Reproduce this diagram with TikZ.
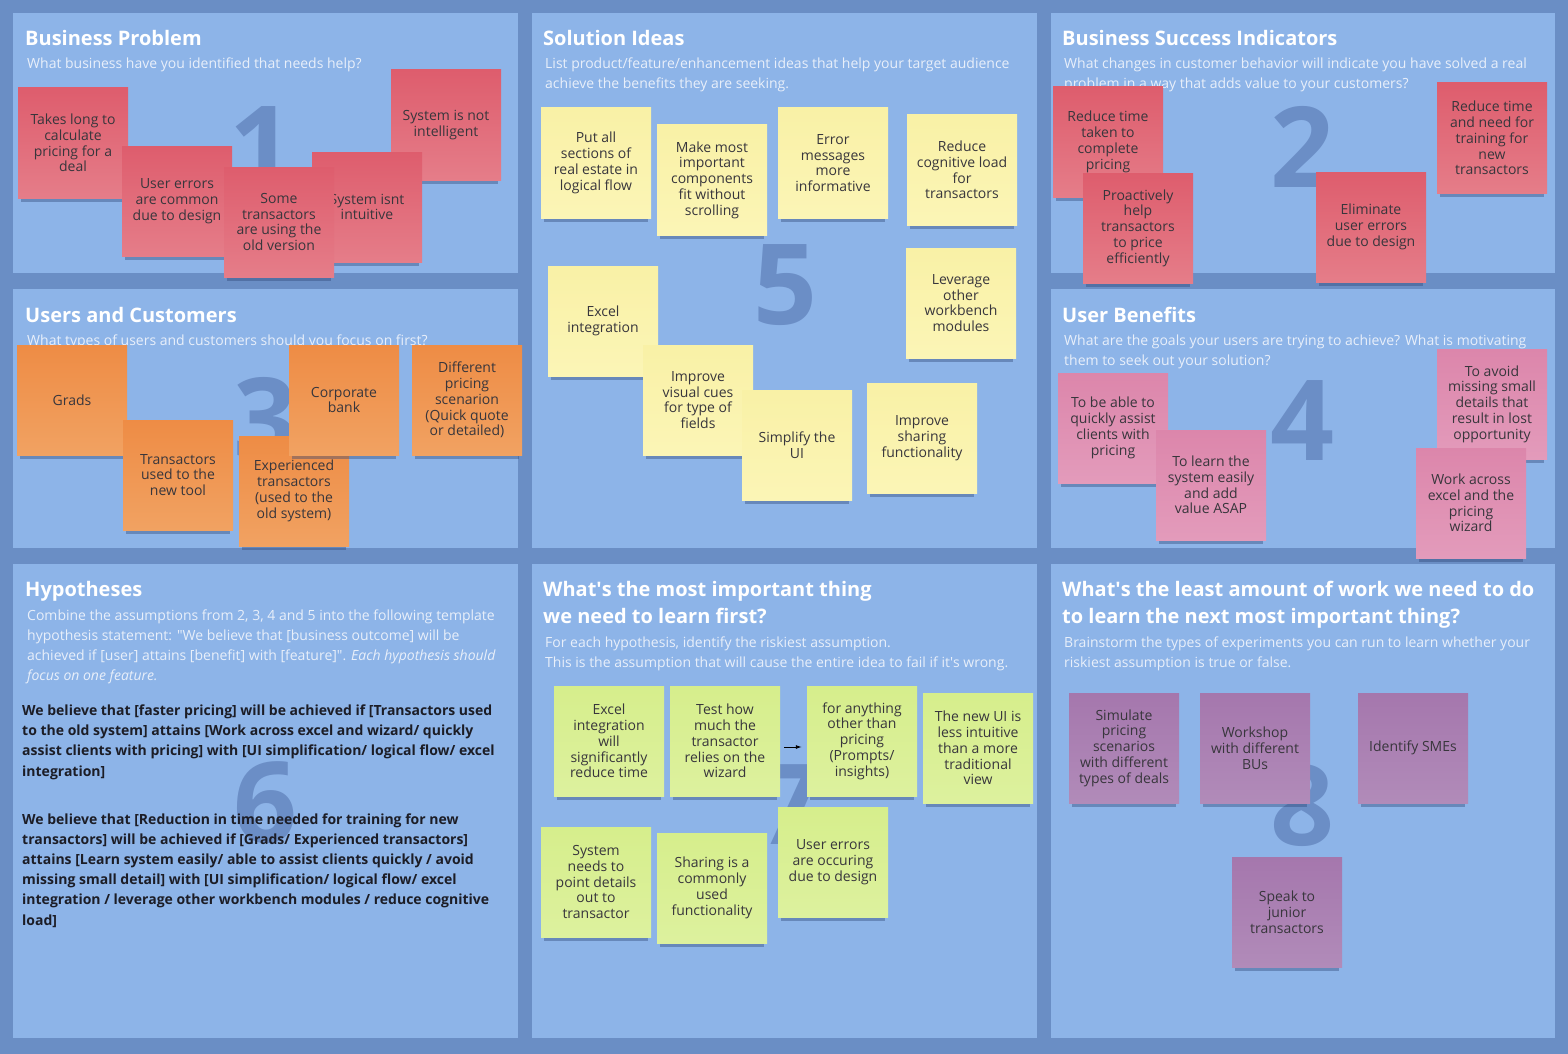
\documentclass[tikz,border=0pt]{standalone}
\usepackage{fontspec}
\setmainfont{Open Sans}
\usetikzlibrary{shadows,arrows.meta}

\newcommand{\notefont}{\fontsize{14}{15.8}\selectfont}
\newcommand{\titlefont}{\fontsize{20}{27}\selectfont\bfseries}
\newcommand{\subfont}{\fontsize{14}{20}\selectfont}
\newcommand{\hypfont}{\fontsize{14}{20.2}\selectfont\bfseries}
\newcommand{\bignumfont}{\fontsize{112}{112}\selectfont\bfseries}

\tikzset{
    sticky/.style={rectangle, minimum width=110pt, minimum height=110pt, inner sep=3pt,
        align=center, text=noteText, font=\notefont,
        drop shadow={shadow xshift=0pt, shadow yshift=-8pt, shadow scale=0.94,
            opacity=0.4, fill=shadowBlue}},
    redNote/.style={sticky, top color=redTop, bottom color=redBot},
    orangeNote/.style={sticky, top color=orangeTop, bottom color=orangeBot},
    yellowNote/.style={sticky, top color=yellowTop, bottom color=yellowBot},
    pinkNote/.style={sticky, top color=pinkTop, bottom color=pinkBot},
    greenNote/.style={sticky, top color=greenTop, bottom color=greenBot},
    purpleNote/.style={sticky, top color=purpleTop, bottom color=purpleBot},
    % base anchor of a multi-line node sits on its last line
    panelTitle/.style={anchor=base west, text=white, font=\titlefont, align=left, inner sep=0pt},
    panelSub/.style={anchor=base west, text=subWhite, font=\subfont, align=left, inner sep=0pt},
    hypText/.style={anchor=base west, text=hypDark, font=\hypfont, align=left, inner sep=0pt},
    bigNum/.style={text=numBlue, font=\bignumfont, inner sep=0pt},
}

\begin{document}
\begin{tikzpicture}[x=1pt, y=-1pt]
    \definecolor{frameBlue}{HTML}{6A8EC5}
    \definecolor{panelBlue}{HTML}{8DB4E8}
    \definecolor{numBlue}{HTML}{6B8EC6}
    \definecolor{shadowBlue}{HTML}{2E4676}
    \definecolor{subWhite}{HTML}{E8EFFA}
    \definecolor{hypDark}{HTML}{1C1D26}
    \definecolor{noteText}{HTML}{38363C}
    \definecolor{redTop}{HTML}{DE5D6D}
    \definecolor{redBot}{HTML}{E57D89}
    \definecolor{orangeTop}{HTML}{EE8C45}
    \definecolor{orangeBot}{HTML}{F1A262}
    \definecolor{yellowTop}{HTML}{F9F1A6}
    \definecolor{yellowBot}{HTML}{FBF5B6}
    \definecolor{pinkTop}{HTML}{DC86AB}
    \definecolor{pinkBot}{HTML}{E39BBB}
    \definecolor{greenTop}{HTML}{D6EE8C}
    \definecolor{greenBot}{HTML}{DDF19E}
    \definecolor{purpleTop}{HTML}{A577AD}
    \definecolor{purpleBot}{HTML}{B18BB9}

    \useasboundingbox (0,0) rectangle (1568,1054);

    % Board and panels
    \fill[frameBlue] (0,0) rectangle (1568,1054);
    \foreach \xa/\ya/\xb/\yb in {13/13/518/273, 13/289/518/548, 13/564/518/1038,
        532/13/1037/548, 532/564/1037/1038,
        1051/13/1555/273, 1051/289/1555/548, 1051/564/1555/1038}
        \fill[panelBlue] (\xa,\ya) rectangle (\xb,\yb);

    % Big step numbers
    \node[bigNum] (num1) at (261,147) {1};
    \node[bigNum] (num2) at (1302,147) {2};
    \node[bigNum] (num3) at (265,418) {3};
    \node[bigNum] (num4) at (1302,421) {4};
    \node[bigNum] (num5) at (785,285) {5};
    \node[bigNum] (num6) at (265,803) {6};
    \node[bigNum] (num7) at (790,805) {7};
    \node[bigNum] (num8) at (1302,806) {8};

    % Headings
    \node[panelTitle] (probTitle) at (25,46) {Business Problem};
    \node[panelSub] (probSub) at (27,69) {What business have you identified that needs help?};
    \node[panelTitle] (ideaTitle) at (543,46) {Solution Ideas};
    \node[panelSub] (ideaSub) at (545,89) {List product/feature/enhancement ideas that help your target audience\\achieve the benefits they are seeking.};
    \node[panelTitle] (succTitle) at (1062,46) {Business Success Indicators};
    \node[panelSub] (succSub) at (1064,89) {What changes in customer behavior will indicate you have solved a real\\problem in a way that adds value to your customers?};
    \node[panelTitle] (userTitle) at (25,322) {Users and Customers};
    \node[panelSub] (userSub) at (27,345) {What types of users and customers should you focus on first?};
    \node[panelTitle] (beneTitle) at (1062,322) {User Benefits};
    \node[panelSub] (beneSub) at (1064,365) {What are the goals your users are trying to achieve? What is motivating\\them to seek out your solution?};
    \node[panelTitle] (hypoTitle) at (25,596) {Hypotheses};
    \node[panelSub] (hypoSub) at (27,680) {Combine the assumptions from 2, 3, 4 and 5 into the following template\\hypothesis statement: \textquotedbl We believe that [business outcome] will be\\achieved if [user] attains [benefit] with [feature]\textquotedbl. \textit{Each hypothesis should}\\\textit{focus on one feature.}};
    \node[panelTitle] (riskTitle) at (543,623) {What\textquotesingle s the most important thing\\we need to learn first?};
    \node[panelSub] (riskSub) at (545,667) {For each hypothesis, identify the riskiest assumption.\\This is the assumption that will cause the entire idea to fail if it\textquotesingle s wrong.};
    \node[panelTitle] (workTitle) at (1062,623) {What\textquotesingle s the least amount of work we need to do\\to learn the next most important thing?};
    \node[panelSub] (workSub) at (1064,667) {Brainstorm the types of experiments you can run to learn whether your\\riskiest assumption is true or false.};

    % Hypothesis statements
    \node[hypText] (hypOne) at (22,776) {We believe that [faster pricing] will be achieved if [Transactors used\\to the old system] attains [Work across excel and wizard/ quickly\\assist clients with pricing] with [UI simplification/ logical flow/ excel\\integration]};
    \node[hypText] (hypTwo) at (22,925) {We believe that [Reduction in time needed for training for new\\transactors] will be achieved if [Grads/ Experienced transactors]\\attains [Learn system easily/ able to assist clients quickly / avoid\\missing small detail] with [UI simplification/ logical flow/ excel\\integration / leverage other workbench modules / reduce cognitive\\load]};

    % 1 Business problem
    \node[redNote] (notIntelligent) at (446,125) {System is not\\intelligent};
    \node[redNote] (takesLong) at (73,143) {Takes long to\\calculate\\pricing for a\\deal};
    \node[redNote] (userErrors) at (177,201) {User errors\\are common\\due to design};
    \node[redNote] (notIntuitive) at (367,207) {System isnt\\intuitive};
    \node[redNote] (oldVersion) at (279,222) {Some\\transactors\\are using the\\old version};

    % 2 Business success indicators
    \node[redNote] (reduceTime) at (1108,142) {Reduce time\\taken to\\complete\\pricing};
    \node[redNote] (proactive) at (1138,228) {Proactively\\help\\transactors\\to price\\efficiently};
    \node[redNote] (eliminate) at (1371,227) {Eliminate\\user errors\\due to design};
    \node[redNote] (training) at (1492,138) {Reduce time\\and need for\\training for\\new\\transactors};

    % 3 Users and customers
    \node[orangeNote] (grads) at (72,400) {Grads};
    \node[orangeNote] (newTool) at (178,475) {Transactors\\used to the\\new tool};
    \node[orangeNote] (experienced) at (294,491) {Experienced\\transactors\\(used to the\\old system)};
    \node[orangeNote] (corporate) at (344,400) {Corporate\\bank};
    \node[orangeNote] (scenarion) at (467,400) {Different\\pricing\\scenarion\\(Quick quote\\or detailed)};

    % 4 User benefits
    \node[pinkNote] (assistQuick) at (1113,428) {To be able to\\quickly assist\\clients with\\pricing};
    \node[pinkNote] (learnEasy) at (1211,485) {To learn the\\system easily\\and add\\value ASAP};
    \node[pinkNote] (avoidMiss) at (1492,404) {To avoid\\missing small\\details that\\result in lost\\opportunity};
    \node[pinkNote] (workAcross) at (1471,503) {Work across\\excel and the\\pricing\\wizard};

    % 5 Solution ideas
    \node[yellowNote] (logicalFlow) at (596,163) {Put all\\sections of\\real estate in\\logical flow};
    \node[yellowNote] (noScroll) at (712,180) {Make most\\important\\components\\fit without\\scrolling};
    \node[yellowNote] (errorMsg) at (833,163) {Error\\messages\\more\\informative};
    \node[yellowNote] (cognitive) at (962,170) {Reduce\\cognitive load\\for\\transactors};
    \node[yellowNote] (leverage) at (961,303) {Leverage\\other\\workbench\\modules};
    \node[yellowNote] (excel) at (603,321) {Excel\\integration};
    \node[yellowNote] (visualCues) at (698,400) {Improve\\visual cues\\for type of\\fields};
    \node[yellowNote] (simplify) at (797,445) {Simplify the\\UI};
    \node[yellowNote] (sharing) at (922,438) {Improve\\sharing\\functionality};

    % 7 Riskiest assumptions
    \node[greenNote] (excelTime) at (609,741) {Excel\\integration\\will\\significantly\\reduce time};
    \node[greenNote] (testWizard) at (725,741) {Test how\\much the\\transactor\\relies on the\\wizard};
    \node[greenNote] (anything) at (862,741) {for anything\\other than\\pricing\\(Prompts/\\insights)};
    \node[greenNote] (newUI) at (978,748) {The new UI is\\less intuitive\\than a more\\traditional\\view};
    \node[greenNote] (pointOut) at (596,882) {System\\needs to\\point details\\out to\\transactor};
    \node[greenNote] (sharingUsed) at (712,888) {Sharing is a\\commonly\\used\\functionality};
    \node[greenNote] (errorsDesign) at (833,862) {User errors\\are occuring\\due to design};
    \draw[-{Latex[length=6pt,width=4pt]}, line width=0.9pt, black]
        ([xshift=4pt,yshift=-6pt]testWizard.east) -- ([xshift=-5pt,yshift=-6pt]anything.west);

    % 8 Experiments
    \node[purpleNote] (simulate) at (1124,748) {Simulate\\pricing\\scenarios\\with different\\types of deals};
    \node[purpleNote] (workshop) at (1255,748) {Workshop\\with different\\BUs};
    \node[purpleNote] (smes) at (1413,748) {Identify SMEs};
    \node[purpleNote] (juniors) at (1287,912) {Speak to\\junior\\transactors};

\end{tikzpicture}
\end{document}
